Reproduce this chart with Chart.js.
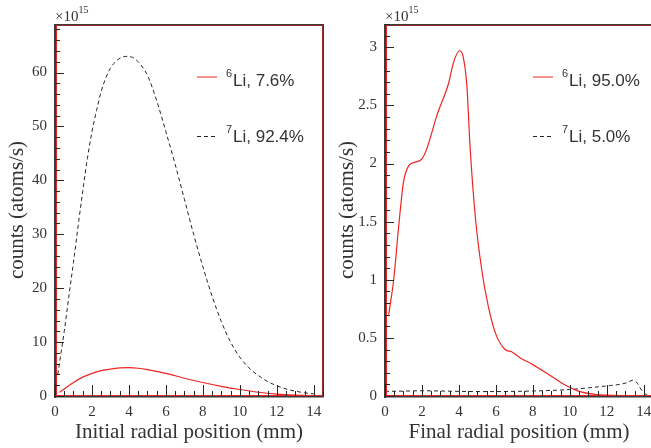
<!DOCTYPE html>
<html>
<head>
<meta charset="utf-8">
<script src="https://cdn.jsdelivr.net/npm/chart.js@4"></script>
<style>
    html, body { margin: 0; padding: 0; background: #fff; overflow: hidden; width: 651px; height: 448px; }
    .panel { position: absolute; top: 0; width: 330px; height: 448px; }
    #left-panel { left: 0; }
    #right-panel { left: 330px; }
</style>
</head>
<body>
<div class="panel" id="left-panel"><canvas id="initial-chart" width="330" height="448"></canvas></div>
<div class="panel" id="right-panel"><canvas id="final-chart" width="330" height="448"></canvas></div>
<script>
// Initial radial position: 6Li (solid red) and 7Li (dashed black), counts x1e15
const initialX6 = [0.25, 0.5, 1, 1.5, 2, 2.5, 3, 3.5, 4, 4.5, 5, 6, 7, 8, 9, 10, 11, 12, 13, 14, 14.5];
const initialLi6 = [0.7, 1.3, 2.5, 3.5, 4.2, 4.7, 5.0, 5.2, 5.25, 5.15, 4.9, 4.2, 3.3, 2.5, 1.8, 1.2, 0.7, 0.35, 0.15, 0.05, 0.02];
const initialX7 = [0.15, 0.25, 0.5, 0.75, 1, 1.25, 1.5, 1.75, 2, 2.25, 2.5, 2.75, 3, 3.3, 3.6, 3.9, 4.2, 4.5, 5, 5.5, 6, 6.5, 7, 7.5, 8, 8.5, 9, 9.5, 10, 10.5, 11, 11.5, 12, 12.5, 13, 13.5, 14];
const initialLi7 = [4, 6.3, 12, 18.5, 24.8, 31.5, 38, 44, 49, 53, 56.5, 59, 60.8, 62.1, 62.8, 63, 62.8, 62, 59.5, 54.8, 49, 43, 36.5, 30, 24, 18.5, 13.8, 10, 7.2, 5.2, 3.8, 2.7, 1.9, 1.3, 0.9, 0.6, 0.4];

// Final radial position
const finalX6 = [0.2, 0.47, 0.74, 1.0, 1.28, 1.6, 2.0, 2.27, 2.8, 3.44, 3.71, 4.03, 4.21, 4.43, 4.6, 4.9, 5.23, 5.59, 6.0, 6.5, 6.85, 7.3, 8, 9, 9.8, 10.5, 11.4, 12, 13, 14, 14.5];
const finalLi6 = [0.70, 1.0, 1.46, 1.84, 1.98, 2.01, 2.04, 2.13, 2.41, 2.69, 2.87, 2.97, 2.93, 2.67, 2.15, 1.52, 1.09, 0.77, 0.53, 0.40, 0.38, 0.33, 0.27, 0.17, 0.09, 0.04, 0.013, 0.007, 0.004, 0.003, 0.003];
const finalX7 = [0, 1, 2, 3, 4, 5, 6, 7, 8, 9, 10, 11, 11.6, 12.2, 12.7, 13.1, 13.4, 13.6, 13.8, 14.0, 14.2];
const finalLi7 = [0.04, 0.042, 0.045, 0.043, 0.04, 0.038, 0.038, 0.04, 0.043, 0.048, 0.056, 0.07, 0.08, 0.09, 0.1, 0.115, 0.135, 0.12, 0.07, 0.03, 0.005];

const xTickLabels = [0, 2, 4, 6, 8, 10, 12, 14];
const initialYTickLabels = [0, 10, 20, 30, 40, 50, 60];
const finalYTickLabels = [0, 0.5, 1, 1.5, 2, 2.5, 3];
const initialLegend = ['7.6%', '92.4%'];
const finalLegend = ['95.0%', '5.0%'];

const SERIF = '"Liberation Serif", "Times New Roman", serif';
const SANS = '"Liberation Sans", Arial, sans-serif';
const RED = '#ee2424';
const DARK = '#262626';

function toPoints(xs, ys) {
    return xs.map((x, i) => ({x, y: ys[i]}));
}

function isLabel(list, value) {
    return list.some((v) => Math.abs(v - value) < 1e-6);
}

// inward ticks, frame, exponent and legend
const decorations = {
    id: 'decorations',
    afterDraw(chart, args, opts) {
        const {ctx, chartArea: a, scales: {x, y}} = chart;

        ctx.save();

        // frame: dark outside, red inside
        ctx.lineWidth = 1;
        ctx.strokeStyle = RED;
        ctx.strokeRect(a.left + 1.5, a.top + 1.5, a.right - a.left - 2, a.bottom - a.top - 2);
        ctx.fillStyle = '#3a3a3a';
        ctx.fillRect(a.left - 1, a.top, a.right - a.left + 1, 1.5);
        ctx.fillRect(a.right - 0.5, a.top, 1.5, a.bottom - a.top + 1);
        ctx.fillRect(a.left - 1, a.top, 2, a.bottom - a.top + 2);
        ctx.fillRect(a.left - 1, a.bottom, a.right - a.left + 2, 1.5);

        ctx.strokeStyle = DARK;
        ctx.lineWidth = 1;
        ctx.beginPath();
        x.ticks.forEach((t) => {
            const px = Math.round(x.getPixelForValue(t.value)) + 0.5;
            const len = isLabel(xTickLabels, t.value) ? 11 : 5;
            ctx.moveTo(px, a.bottom);
            ctx.lineTo(px, a.bottom - len);
        });
        y.ticks.forEach((t) => {
            const py = Math.round(y.getPixelForValue(t.value)) + 0.5;
            const len = isLabel(opts.yLabels, t.value) ? 9 : 5;
            ctx.moveTo(a.left, py);
            ctx.lineTo(a.left + len, py);
        });
        ctx.stroke();

        // x10^15
        ctx.fillStyle = '#333';
        ctx.textBaseline = 'alphabetic';
        ctx.textAlign = 'left';
        ctx.font = '15px ' + SERIF;
        ctx.fillText('\u00d710', a.left, 21);
        const w = ctx.measureText('\u00d710').width;
        ctx.font = '10px ' + SERIF;
        ctx.fillText('15', a.left + w, 13);

        // legend
        const rows = [
            {sup: '6', text: 'Li, ' + opts.legend[0], color: RED, dash: [], lineY: 77, base: 86},
            {sup: '7', text: 'Li, ' + opts.legend[1], color: DARK, dash: [4, 3], lineY: 136.5, base: 142},
        ];
        rows.forEach((r) => {
            ctx.beginPath();
            ctx.setLineDash(r.dash);
            ctx.strokeStyle = r.color;
            ctx.lineWidth = 1;
            ctx.moveTo(opts.legendX, r.lineY);
            ctx.lineTo(opts.legendX + 20, r.lineY);
            ctx.stroke();
            ctx.setLineDash([]);
            ctx.fillStyle = '#333';
            ctx.font = '11px ' + SANS;
            ctx.fillText(r.sup, opts.legendX + 29, r.base - 9);
            ctx.font = '17px ' + SANS;
            ctx.fillText(r.text, opts.legendX + 36, r.base);
        });
        ctx.restore();
    },
};

function makeChart(canvasId, setup) {
    return new Chart(document.getElementById(canvasId), {
        type: 'line',
        data: {
            datasets: [
                {
                    data: toPoints(setup.x6, setup.y6),
                    borderColor: RED,
                    borderWidth: 1.2,
                    pointRadius: 0,
                    cubicInterpolationMode: 'monotone',
                },
                {
                    data: toPoints(setup.x7, setup.y7),
                    borderColor: DARK,
                    borderWidth: 1,
                    borderDash: [4, 3],
                    pointRadius: 0,
                    cubicInterpolationMode: 'monotone',
                },
            ],
        },
        options: {
            responsive: false,
            animation: false,
            layout: {padding: {left: 0, right: 6, top: 24, bottom: 0}},
            scales: {
                x: {
                    type: 'linear',
                    min: 0,
                    max: 14.5,
                    grid: {display: false, drawTicks: false},
                    border: {display: false},
                    afterFit(scale) {
                        scale.height = 52;
                    },
                    ticks: {
                        stepSize: 0.5,
                        autoSkip: false,
                        maxRotation: 0,
                        includeBounds: false,
                        padding: 7,
                        color: '#333',
                        font: {family: SERIF, size: 15},
                        callback: (v) => (isLabel(xTickLabels, v) ? String(v) : ''),
                    },
                    title: {
                        display: true,
                        text: setup.xTitle,
                        color: '#333',
                        font: {family: SERIF, size: 21},
                        padding: {top: 0, bottom: 3},
                    },
                },
                y: {
                    min: 0,
                    max: setup.yMax,
                    grid: {display: false, drawTicks: false},
                    border: {display: false},
                    afterFit(scale) {
                        scale.width = 55;
                    },
                    ticks: {
                        stepSize: setup.yStep,
                        autoSkip: false,
                        includeBounds: false,
                        padding: 8,
                        color: '#333',
                        font: {family: SERIF, size: 15},
                        callback: (v) => (isLabel(setup.yLabels, v) ? String(v) : ''),
                    },
                    title: {
                        display: true,
                        text: 'counts (atoms/s)',
                        color: '#333',
                        font: {family: SERIF, size: 21},
                        padding: {top: 5, bottom: 0},
                    },
                },
            },
            plugins: {
                legend: {display: false},
                tooltip: {enabled: false},
                decorations: {
                    yLabels: setup.yLabels,
                    legend: setup.legend,
                    legendX: setup.legendX,
                },
            },
        },
        plugins: [decorations],
    });
}

makeChart('initial-chart', {
    x6: initialX6, y6: initialLi6, x7: initialX7, y7: initialLi7,
    yMax: 69, yStep: 2, yLabels: initialYTickLabels,
    xTitle: 'Initial radial position (mm)',
    legend: initialLegend, legendX: 197,
});

makeChart('final-chart', {
    x6: finalX6, y6: finalLi6, x7: finalX7, y7: finalLi7,
    yMax: 3.2, yStep: 0.1, yLabels: finalYTickLabels,
    xTitle: 'Final radial position (mm)',
    legend: finalLegend, legendX: 203,
});
</script>
</body>
</html>
